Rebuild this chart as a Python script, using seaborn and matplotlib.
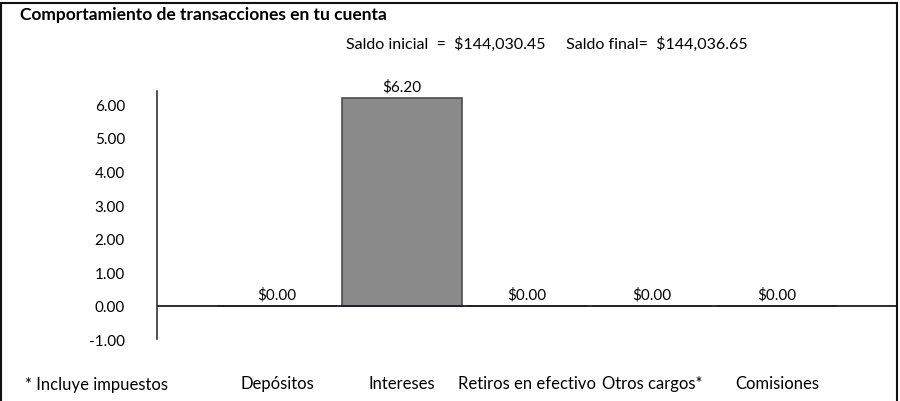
import seaborn as sns
import matplotlib.pyplot as plt
import pandas as pd
from matplotlib.patches import Rectangle

# --- data ---
categories = ["Depósitos", "Intereses", "Retiros en efectivo", "Otros cargos*", "Comisiones"]
amounts = [0.00, 6.20, 0.00, 0.00, 0.00]
y_ticks = [-1, 0, 1, 2, 3, 4, 5, 6]
saldo_inicial = "144,030.45"
saldo_final = "144,036.65"

df = pd.DataFrame({"Concepto": categories, "Monto": amounts})

sns.set_style("white")
plt.rcParams["font.family"] = ["Lato", "DejaVu Sans"]
plt.rcParams["text.color"] = "black"
plt.rcParams["xtick.color"] = "black"
plt.rcParams["ytick.color"] = "black"

fig = plt.figure(figsize=(9, 4.02), dpi=100)
ax = fig.add_axes([0.1744, 0.154, 0.8236, 0.617])

sns.barplot(data=df, x="Concepto", y="Monto", color="#8a8a8a", width=0.96,
            edgecolor="#4d4d4d", linewidth=1.2, saturation=1, ax=ax)

ax.set_xlim(-0.96, 4.97)
ax.set_ylim(-1.0, 6.4)
ax.axhline(0, color="#1a1a2e", lw=1.3)

# value labels
for i, v in enumerate(amounts):
    ax.text(i, v + 0.12, f"\\${v:.2f}", ha="center", va="bottom", fontsize=11)

ax.set_yticks(y_ticks)
ax.set_yticklabels([f"{t:.2f}" for t in y_ticks], fontsize=11)
ax.tick_params(axis="y", length=0, pad=23)
ax.tick_params(axis="x", length=0, pad=26, labelsize=12)
ax.set_xlabel("")
ax.set_ylabel("")

for side in ["top", "right", "bottom"]:
    ax.spines[side].set_visible(False)
ax.spines["left"].set_color("#222222")
ax.spines["left"].set_linewidth(1.1)

# texts around the chart
fig.text(0.022, 0.963, "Comportamiento de transacciones en tu cuenta",
         fontsize=12.5, fontweight="bold", va="center", ha="left")
fig.text(0.608, 0.89,
         f"Saldo inicial  =  \\${saldo_inicial}     Saldo final=  \\${saldo_final}",
         fontsize=11.5, va="center", ha="center")
fig.text(0.028, 0.042, "* Incluye impuestos", fontsize=12, va="center", ha="left")

# outer frame
fig.patches.append(Rectangle((0.001, -0.01), 0.996, 1.0, transform=fig.transFigure,
                             fill=False, edgecolor="#111111", lw=1.5))

fig.savefig("out.png", dpi=100)
plt.close(fig)
